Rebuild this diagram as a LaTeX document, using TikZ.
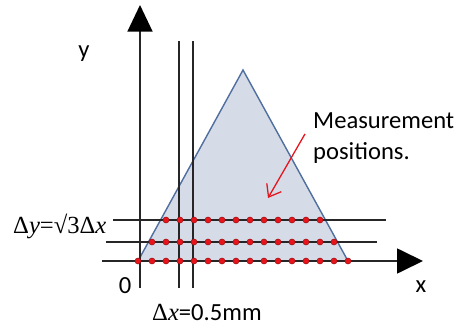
\documentclass[tikz,border=0pt]{standalone}
\usepackage{fontspec}
\setmainfont{Carlito}
\newfontfamily\serifpart{Liberation Serif}
\usetikzlibrary{positioning,calc,arrows.meta}
\definecolor{TriFill}{HTML}{D5DCE7}
\definecolor{TriEdge}{HTML}{506FA0}
\definecolor{GridDark}{HTML}{262626}
\definecolor{DotRed}{HTML}{E8141C}

\begin{document}
\begin{tikzpicture}[x=0.03cm, y=0.03cm, >=stealth, every node/.style={font=\fontsize{21}{27}\selectfont, inner sep=0pt}]
  \useasboundingbox (0,0) rectangle (467,328);
  % Coordinates
  \coordinate (ybot) at (140,40);
  \coordinate (ytop) at (140,323);
  \coordinate (xleft) at (102,67);
  \coordinate (xright) at (423,67);
  \coordinate (baseL) at (138,67);
  \coordinate (apex) at (243,258);
  \coordinate (baseR) at (348,67);
  \coordinate (target) at (268,130);

  % Triangle
  \draw [fill=TriFill, draw=TriEdge, line width=1.2pt] (baseL) -- (apex) -- (baseR) -- cycle;

  % Grid lines
  \draw [GridDark, line width=1.5pt] (179,40) -- (179,287);
  \draw [GridDark, line width=1.5pt] (193,40) -- (193,287);
  \draw [GridDark, line width=1.5pt] (106,86) -- (377,86);
  \draw [GridDark, line width=1.5pt] (113,108) -- (386,108);

  % Axes
  \draw [-{Triangle[length=0.8cm, width=0.75cm, color=black]}, line width=1.5pt, GridDark] (ybot) -- (ytop);
  \draw [-{Triangle[length=0.78cm, width=0.75cm, color=black]}, line width=1.5pt, GridDark] (xleft) -- (xright);

  % Measurement dots
  \foreach \r/\yy in {0/67, 1/86, 2/108} {
    \pgfmathtruncatemacro{\last}{15-\r}
    \foreach \i in {\r,...,\last}
      \filldraw [fill=DotRed, draw=DotRed!60!black, line width=0.3pt] (138+14*\i, \yy) circle [radius=3.1];
  }

  % Nodes
  \node [anchor=base] (ylabel) at (84,270) {y};
  \node [anchor=base] (xlabel) at (421,36) {x};
  \node [anchor=base] (zero) at (125,35) {0};
  \node [anchor=base west] (dxlabel) at (152,8) {{\serifpart Δ\textit{x}}=0.5mm};
  \node [anchor=base west] (dylabel) at (13,95) {\serifpart Δ\textit{y}=√3Δ\textit{x}};
  \node [anchor=north west, align=left] (note) at (313,216) {Measurement\\positions.};

  % Paths
  \draw [-{Straight Barb[length=0.33cm, width=0.5cm]}, DotRed, line width=1.1pt] ($(note.west)+(-8,4)$) -- (target);
\end{tikzpicture}
\end{document}
